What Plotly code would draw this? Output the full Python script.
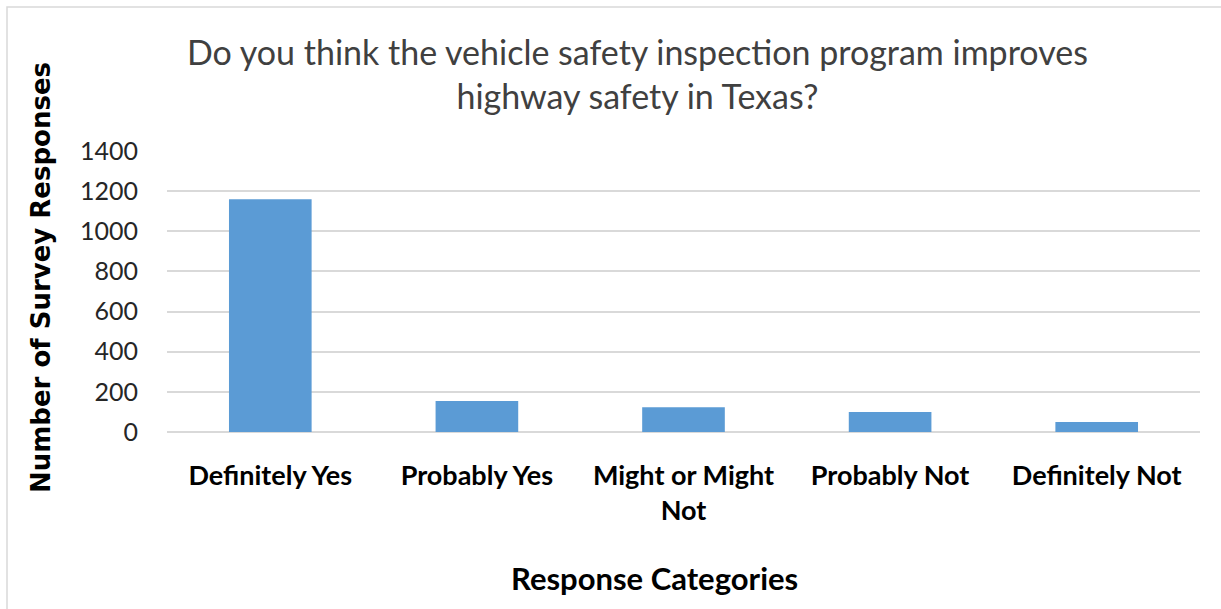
import plotly.graph_objects as go

# Survey results
categories = ["Definitely Yes", "Probably Yes", "Might or Might<br>Not", "Probably Not", "Definitely Not"]
responses = [1160, 154, 123, 100, 50]
y_ticks = [0, 200, 400, 600, 800, 1000, 1200, 1400]

title_text = "Do you think the vehicle safety inspection program improves<br>highway safety in Texas?"
x_title = "Response Categories"
y_title = "Number of Survey Responses"

W, H = 1221, 609
L, R, T, B = 167, 21, 151, 177
FONT = "Lato, 'Open Sans', sans-serif"
WIDE = "'DejaVu Sans', Verdana, sans-serif"

fig = go.Figure(
    go.Bar(
        x=categories,
        y=responses,
        marker=dict(color="#5b9bd5", line=dict(width=0)),
        width=0.4,
    )
)

pw = W - L - R
ph = H - T - B

def px_x(x):
    return (x - L) / pw

def px_y(y):
    return (H - B - y) / ph

fig.update_layout(
    width=W,
    height=H,
    margin=dict(l=L, r=R, t=T, b=B),
    paper_bgcolor="white",
    plot_bgcolor="white",
    showlegend=False,
    font=dict(family=FONT, color="#262626"),
    xaxis=dict(
        showgrid=False,
        showline=False,
        ticks="",
        tickfont=dict(size=27, color="#000000", family=FONT, weight="bold"),
        ticklabelstandoff=25,
    ),
    yaxis=dict(
        range=[0, 1400],
        tickvals=y_ticks,
        showgrid=True,
        gridcolor="#d9d9d9",
        gridwidth=1.5,
        zeroline=True,
        zerolinecolor="#d9d9d9",
        zerolinewidth=1.5,
        showline=False,
        ticks="",
        tickfont=dict(size=25, color="#262626", family=FONT),
        ticklabelstandoff=28,
    ),
    shapes=[
        dict(
            type="rect", xref="paper", yref="paper",
            x0=px_x(7), x1=px_x(1230), y0=px_y(620), y1=px_y(7),
            line=dict(color="#d9d9d9", width=1.5), fillcolor="rgba(0,0,0,0)",
            layer="below",
        )
    ],
    annotations=[
        dict(
            text=title_text, xref="paper", yref="paper",
            x=px_x(637), y=px_y(73), xanchor="center", yanchor="middle",
            showarrow=False, align="center",
            font=dict(size=34, color="#404040", family=FONT),
        ),
        dict(
            text=x_title, xref="paper", yref="paper",
            x=px_x(654), y=px_y(578), xanchor="center", yanchor="middle",
            showarrow=False,
            font=dict(size=31, color="#000000", family=FONT, weight="bold"),
        ),
        dict(
            text=y_title, xref="paper", yref="paper",
            x=px_x(41), y=px_y(278), xanchor="center", yanchor="middle",
            showarrow=False, textangle=-90,
            font=dict(size=26, color="#000000", family=WIDE, weight="bold"),
        ),
    ],
)

fig.write_html("out.html")
